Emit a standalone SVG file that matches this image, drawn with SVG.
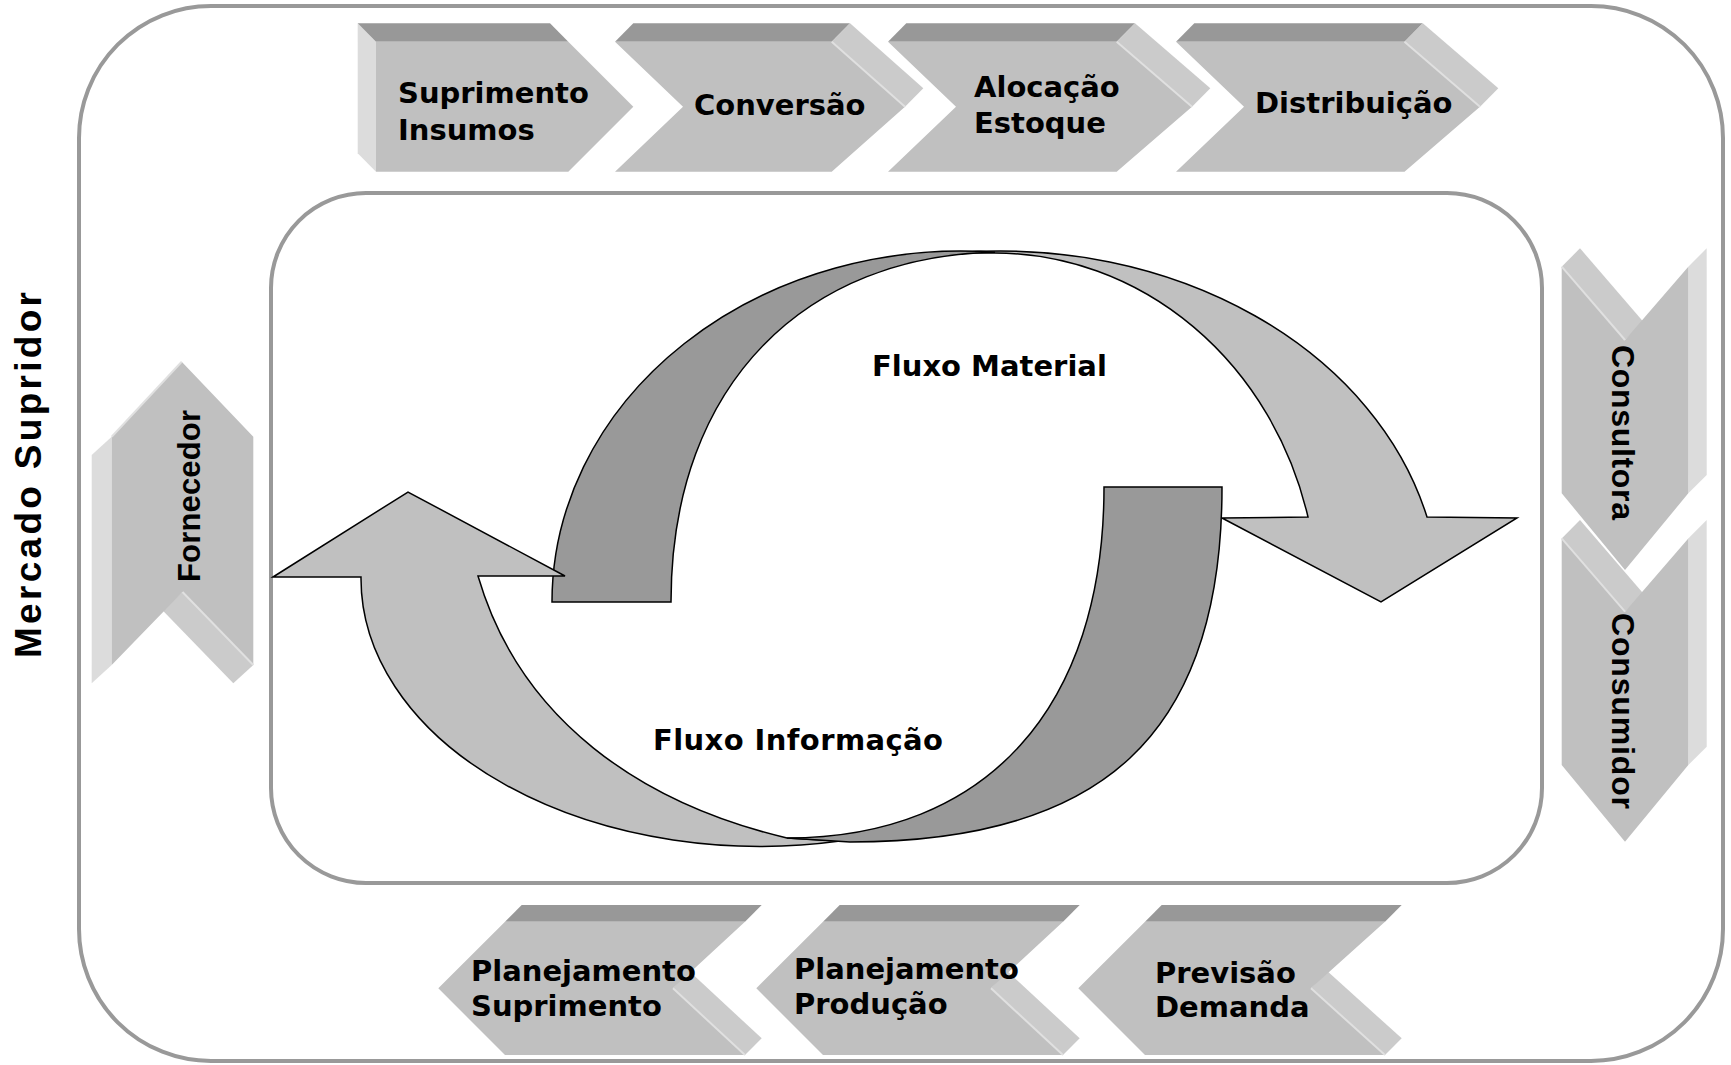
<svg xmlns="http://www.w3.org/2000/svg" width="1731" height="1065" viewBox="0 0 1731 1065">
<style>
.frame{fill:none;stroke:#999999;stroke-width:4}
.front{fill:#c0c0c0}
.top{fill:#989898}
.side{fill:#cbcbcb}
.lface{fill:#dcdcdc}
.hl{stroke:#e0e0e0;stroke-width:2;fill:none}
.lbl{font-family:"DejaVu Sans",Verdana,sans-serif;font-weight:bold;font-size:29px;fill:#000}
.vlbl{font-family:"Liberation Sans",Arial,sans-serif;font-weight:bold;fill:#000}
.arrL{fill:#c0c0c0;stroke:#000;stroke-width:1.5;stroke-linejoin:miter}
.arrD{fill:#999999;stroke:#000;stroke-width:1.5;stroke-linejoin:miter}
</style>
<rect width="1731" height="1065" fill="#ffffff"/>
<g id="mercado">
<rect class="frame" x="79" y="6" width="1644" height="1055" rx="132" ry="132"/>
<text class="vlbl" font-size="37" textLength="366" lengthAdjust="spacing" transform="translate(41,658) rotate(-90)">Mercado Supridor</text>
</g>
<g id="nucleo">
<rect class="frame" x="271" y="193" width="1271" height="690" rx="95" ry="95"/>
</g>
<g id="suprimento-insumos">
<polygon class="lface" points="357.7,23.3 376,41.7 376,171.7 357.7,153.3"/>
<polygon class="top" points="357.7,23.3 550,23.3 568.3,41.7 376,41.7"/>
<polygon class="front" points="376,41.7 568.3,41.7 633.3,106.7 568.3,171.7 376,171.7"/>
<text class="lbl" x="398" y="103">Suprimento</text>
<text class="lbl" x="398" y="139.5">Insumos</text>
</g>
<g id="conversao">
<polygon class="top" points="615,41.7 633.3,23.3 850,23.3 831.7,41.7"/>
<polygon class="side" points="831.7,41.7 850,23.3 923.3,88.3 905,106.7"/>
<polygon class="front" points="615,41.7 831.7,41.7 905,106.7 831.7,171.7 615,171.7 683,106.7"/>
<line class="hl" x1="831.7" y1="41.7" x2="905" y2="106.7"/>
<text class="lbl" x="694" y="115">Conversão</text>
</g>
<g id="alocacao-estoque">
<polygon class="top" points="888,41.7 906.3,23.3 1135,23.3 1116.7,41.7"/>
<polygon class="side" points="1116.7,41.7 1135,23.3 1210.3,88.3 1192,106.7"/>
<polygon class="front" points="888,41.7 1116.7,41.7 1192,106.7 1116.7,171.7 888,171.7 956,106.7"/>
<line class="hl" x1="1116.7" y1="41.7" x2="1192" y2="106.7"/>
<text class="lbl" x="974" y="96.5">Alocação</text>
<text class="lbl" x="974" y="132.5">Estoque</text>
</g>
<g id="distribuicao">
<polygon class="top" points="1176,41.7 1194.3,23.3 1422.8,23.3 1404.5,41.7"/>
<polygon class="side" points="1404.5,41.7 1422.8,23.3 1498.3,88.3 1480,106.7"/>
<polygon class="front" points="1176,41.7 1404.5,41.7 1480,106.7 1404.5,171.7 1176,171.7 1244,106.7"/>
<line class="hl" x1="1404.5" y1="41.7" x2="1480" y2="106.7"/>
<text class="lbl" x="1255" y="113">Distribuição</text>
</g>
<g id="fornecedor">
<polygon class="lface" points="111.7,436.7 91.7,455 91.7,683.3 111.7,665"/>
<polygon class="side" points="182.5,592 253.3,665 233.3,683.3 162.5,610.3"/>
<polygon class="front" points="181.7,361.7 253.3,436.7 253.3,665 182.5,592 111.7,665 111.7,436.7"/>
<line class="hl" x1="182.5" y1="592" x2="253.3" y2="665"/>
<line class="hl" x1="111.7" y1="436.7" x2="181.7" y2="361.7"/>
<text class="vlbl" font-size="31" textLength="172" lengthAdjust="spacing" transform="translate(200,582) rotate(-90)">Fornecedor</text>
</g>
<g id="consultora">
<polygon class="side" points="1561.7,266.7 1580,248.3 1643.3,321.7 1625,340"/>
<polygon class="lface" points="1688.3,266.7 1706.7,248.3 1706.7,475 1688.3,493.3"/>
<polygon class="front" points="1561.7,266.7 1625,340 1688.3,266.7 1688.3,493.3 1625,570 1561.7,493.3"/>
<line class="hl" x1="1561.7" y1="266.7" x2="1625" y2="340"/>
<text class="vlbl" font-size="32" textLength="175" lengthAdjust="spacing" transform="translate(1612,345) rotate(90)">Consultora</text>
</g>
<g id="consumidor">
<polygon class="side" points="1561.7,538.4 1580,520 1643.3,593.4 1625,611.7"/>
<polygon class="lface" points="1688.3,538.4 1706.7,520 1706.7,746.7 1688.3,765"/>
<polygon class="front" points="1561.7,538.4 1625,611.7 1688.3,538.4 1688.3,765 1625,841.7 1561.7,765"/>
<line class="hl" x1="1561.7" y1="538.4" x2="1625" y2="611.7"/>
<text class="vlbl" font-size="32" textLength="196" lengthAdjust="spacing" transform="translate(1612,613) rotate(90)">Consumidor</text>
</g>
<g id="planejamento-suprimento">
<polygon class="top" points="505,921.7 521.7,905 761.7,905 745,921.7"/>
<polygon class="side" points="673,988.3 689.7,971.6 761.7,1038.3 745,1055"/>
<polygon class="front" points="505,921.7 745,921.7 673,988.3 745,1055 505,1055 438.3,988.3"/>
<line class="hl" x1="673" y1="988.3" x2="745" y2="1055"/>
<text class="lbl" x="471" y="981">Planejamento</text>
<text class="lbl" x="471" y="1016">Suprimento</text>
</g>
<g id="planejamento-producao">
<polygon class="top" points="823,921.7 839.7,905 1079.7,905 1063,921.7"/>
<polygon class="side" points="991,988.3 1007.7,971.6 1079.7,1038.3 1063,1055"/>
<polygon class="front" points="823,921.7 1063,921.7 991,988.3 1063,1055 823,1055 756.3,988.3"/>
<line class="hl" x1="991" y1="988.3" x2="1063" y2="1055"/>
<text class="lbl" x="794" y="979">Planejamento</text>
<text class="lbl" x="794" y="1014">Produção</text>
</g>
<g id="previsao-demanda">
<polygon class="top" points="1145,921.7 1161.7,905 1401.7,905 1385,921.7"/>
<polygon class="side" points="1311,988.3 1327.7,971.6 1401.7,1038.3 1385,1055"/>
<polygon class="front" points="1145,921.7 1385,921.7 1311,988.3 1385,1055 1145,1055 1078.3,988.3"/>
<line class="hl" x1="1311" y1="988.3" x2="1385" y2="1055"/>
<text class="lbl" x="1155" y="983">Previsão</text>
<text class="lbl" x="1155" y="1017">Demanda</text>
</g>
<g id="connectors">
<path class="arrL" d="M960,252.4 A440,351 0 0 1 1427,517 L1517,518 L1381,602 L1222,518 L1308,517 A323,349 0 0 0 995,253 Z"/>
<path class="arrD" d="M552,602 A409,351 0 0 1 995,252.3 C810,255 671,380 671,602 Z"/>
<path class="arrL" d="M273,577 L408,492 L565,576 L478,576 C520,720 641,803.5 787,838 L840,841 A399,268 0 0 1 361,577 Z"/>
<path class="arrD" d="M1104,487 L1222,487 C1222,737 1100,842 850,842 L787,838 C987,838 1104,707 1104,487 Z"/>
</g>
<g id="fluxo-material"><text class="lbl" x="872" y="376">Fluxo Material</text></g>
<g id="fluxo-informacao"><text class="lbl" x="653" y="750" textLength="290" lengthAdjust="spacing">Fluxo Informação</text></g>
</svg>
